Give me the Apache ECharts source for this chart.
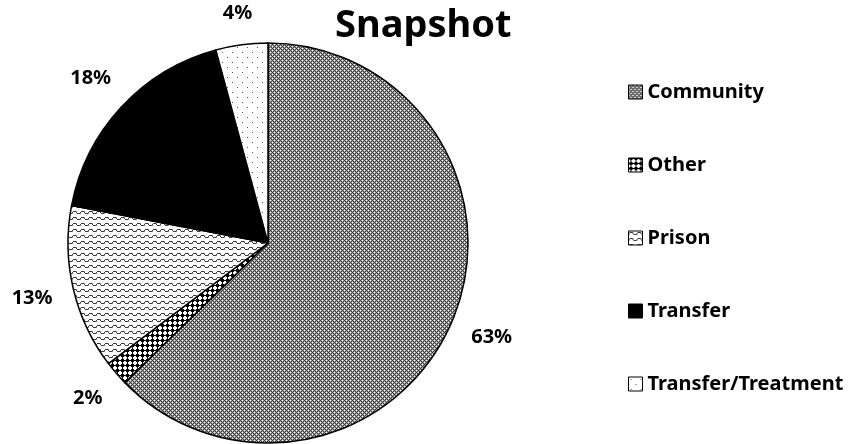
<!DOCTYPE html>
<html>
<head>
<meta charset="utf-8">
<title>Snapshot</title>
<script type="text/javascript" src="https://cdn.jsdelivr.net/npm/echarts@6/dist/echarts.min.js"></script>
<style>
  html, body { margin: 0; padding: 0; background: #fff; }
  #main { width: 854px; height: 444px; }
</style>
</head>
<body>
<div id="main"></div>
<script type="text/javascript">
  // data (percent of total)
  var categories = ['Community', 'Other', 'Prison', 'Transfer', 'Transfer/Treatment'];
  var shares = [62.7, 2.0, 13.3, 17.8, 4.2];

  var pieCenter = [268, 243];
  var pieRadius = 200;
  var labelGap = 20;

  // small canvas fills imitating the Excel pattern swatches
  function makePattern(w, h, fn) {
    var c = document.createElement('canvas');
    c.width = w; c.height = h;
    var ctx = c.getContext('2d');
    ctx.fillStyle = '#fff';
    ctx.fillRect(0, 0, w, h);
    fn(ctx, w, h);
    return { image: c, repeat: 'repeat' };
  }

  var fills = [
    // community: fine grey diamond mesh with white dots
    makePattern(4, 4, function (ctx) {
      ctx.fillStyle = '#a0a0a0';
      ctx.fillRect(0, 0, 4, 4);
      ctx.fillStyle = '#3a3a3a';
      for (var y = 0; y < 4; y++) for (var x = 0; x < 4; x++) {
        if ((x + y) % 4 === 0 || (x - y + 4) % 4 === 0) ctx.fillRect(x, y, 1, 1);
      }
      ctx.fillStyle = '#fff';
      ctx.fillRect(2, 0, 1, 1);
      ctx.fillRect(0, 2, 1, 1);
    }),
    // other: diagonal checker board
    makePattern(10, 10, function (ctx) {
      ctx.fillStyle = '#000';
      for (var y = 0; y < 10; y++) for (var x = 0; x < 10; x++) {
        var u = Math.floor((x + y) / 5), v = Math.floor((x - y + 10) / 5);
        if ((u + v) % 2 === 0) ctx.fillRect(x, y, 1, 1);
      }
    }),
    // prison: wavy lines
    makePattern(8, 6, function (ctx) {
      ctx.fillStyle = '#3a3a3a';
      var ys = [2, 1, 1, 1, 2, 3, 3, 3];
      for (var x = 0; x < 8; x++) ctx.fillRect(x, ys[x], 1, 1);
      ctx.fillStyle = '#888';
      ctx.fillRect(0, 3, 1, 1);
      ctx.fillRect(4, 1, 1, 1);
    }),
    '#000',
    // transfer/treatment: sparse dots
    makePattern(10, 10, function (ctx) {
      ctx.fillStyle = '#555';
      ctx.fillRect(2, 2, 1, 1);
      ctx.fillRect(7, 7, 1, 1);
    })
  ];

  var pieData = categories.map(function (name, i) {
    return { name: name, value: shares[i], itemStyle: { color: fills[i] } };
  });

  // place each label centred just outside the rim, like Excel's best fit
  function placeLabel(p) {
    var pt = p.labelLinePoints[0];
    var dx = pt[0] - pieCenter[0], dy = pt[1] - pieCenter[1];
    var len = Math.sqrt(dx * dx + dy * dy) || 1;
    var ux = dx / len, uy = dy / len;
    var w = p.labelRect.width, h = p.labelRect.height;
    var d = pieRadius + labelGap + 0.5 * Math.abs(ux) * w + 0.5 * Math.abs(uy) * h;
    return {
      x: pieCenter[0] + ux * d,
      y: pieCenter[1] + uy * d,
      align: 'center',
      verticalAlign: 'middle'
    };
  }

  var myChart = echarts.init(document.getElementById('main'), null, { renderer: 'canvas' });
  var option = {
    backgroundColor: '#fff',
    animation: false,
    title: {
      text: 'Snapshot',
      left: 335,
      top: 7,
      padding: 0,
      textStyle: { fontFamily: 'Noto Sans', fontWeight: 'bold', fontSize: 38, color: '#000' }
    },
    legend: {
      orient: 'vertical',
      left: 623,
      top: 77,
      itemWidth: 14,
      itemHeight: 14,
      itemGap: 53,
      icon: 'rect',
      itemStyle: { borderColor: '#000', borderWidth: 1 },
      textStyle: { fontFamily: 'Noto Sans', fontWeight: 'bold', fontSize: 20, color: '#000' },
      data: categories
    },
    series: [{
      type: 'pie',
      center: pieCenter,
      radius: pieRadius,
      startAngle: 90,
      clockwise: true,
      avoidLabelOverlap: false,
      itemStyle: { borderColor: '#000', borderWidth: 1.5 },
      label: {
        show: true,
        position: 'outside',
        formatter: function (p) { return Math.round(p.value) + '%'; },
        fontFamily: 'Noto Sans',
        fontWeight: 'bold',
        fontSize: 20,
        color: '#000'
      },
      labelLine: { show: false, length: 15, length2: 0 },
      labelLayout: placeLabel,
      emphasis: { disabled: true },
      data: pieData
    }]
  };
  myChart.setOption(option);
</script>
</body>
</html>
